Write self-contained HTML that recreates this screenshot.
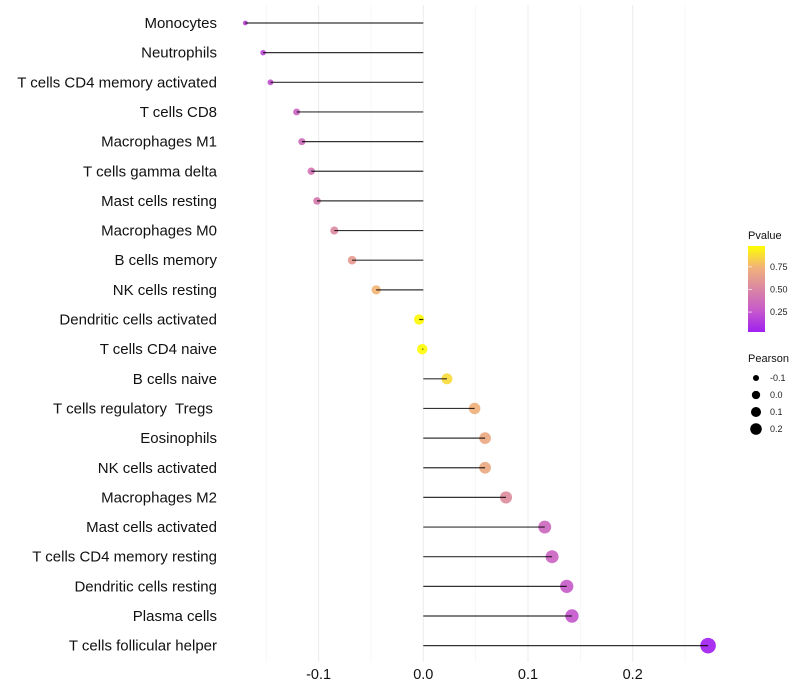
<!DOCTYPE html>
<html><head><meta charset="utf-8"><style>
body{margin:0;background:#fff;}
svg{display:block;font-family:"Liberation Sans",sans-serif;}
text{white-space:pre;}
</style></head><body>
<svg id="chart" width="800" height="700">
<defs><linearGradient id="pgrad" x1="0" y1="1" x2="0" y2="0">
<stop offset="0" stop-color="#A020F0"/><stop offset="0.25" stop-color="#C65ACB"/><stop offset="0.5" stop-color="#DA86A4"/><stop offset="0.75" stop-color="#F1B27A"/><stop offset="1" stop-color="#FFFF00"/>
</linearGradient></defs>
<g id="grid"></g>
<g id="marks"></g>
<g id="ylabels"></g>
<g id="xlabels"></g>
<g>
<text x="748" y="239" font-size="11" fill="#111">Pvalue</text>
<rect x="748" y="246" width="17" height="86" fill="url(#pgrad)"/>
<g id="pticks"></g>
</g>
<g>
<text x="748" y="362" font-size="11" fill="#111">Pearson</text>
<g id="sizeleg"></g>
</g>
</svg>
<script>
const categories=["Monocytes","Neutrophils","T cells CD4 memory activated","T cells CD8","Macrophages M1","T cells gamma delta","Mast cells resting","Macrophages M0","B cells memory","NK cells resting","Dendritic cells activated","T cells CD4 naive","B cells naive","T cells regulatory  Tregs ","Eosinophils","NK cells activated","Macrophages M2","Mast cells activated","T cells CD4 memory resting","Dendritic cells resting","Plasma cells","T cells follicular helper"];
const pearson=[-0.170,-0.153,-0.146,-0.121,-0.116,-0.107,-0.1015,-0.085,-0.068,-0.045,-0.004,-0.001,0.0226,0.049,0.059,0.059,0.079,0.116,0.123,0.137,0.142,0.272];
const pvalues=[0.17,0.20,0.22,0.32,0.35,0.40,0.43,0.52,0.62,0.76,0.98,0.99,0.88,0.74,0.70,0.70,0.54,0.33,0.31,0.26,0.24,0.01];
const xTicks=[-0.1,0.0,0.1,0.2];
const xTickLabels=["-0.1","0.0","0.1","0.2"];
const xMinor=[-0.15,-0.05,0.05,0.15,0.25];
const pTicks=[0.25,0.5,0.75];
const pTickLabels=["0.25","0.50","0.75"];
const sizeLegendVals=[-0.1,0.0,0.1,0.2];
const sizeLegendLabels=["-0.1","0.0","0.1","0.2"];

const NS="http://www.w3.org/2000/svg";
const x=v=>423.3+v*1047;
const y=i=>23+i*29.65;
const r=v=>Math.sqrt(Math.max(2.5,27+125*v));
const stops=[[0,[160,32,240]],[0.25,[198,90,203]],[0.5,[218,134,164]],[0.75,[241,178,122]],[1,[255,255,0]]];
function col(p){for(let k=1;k<stops.length;k++){if(p<=stops[k][0]){const a=stops[k-1],b=stops[k],t=(p-a[0])/(b[0]-a[0]);return 'rgb('+a[1].map((c,j)=>Math.round(c+(b[1][j]-c)*t)).join(',')+')';}}return 'rgb(255,255,0)';}
function mk(tag,attrs,parent){const e=document.createElementNS(NS,tag);for(const k in attrs)e.setAttribute(k,attrs[k]);document.getElementById(parent).appendChild(e);return e;}

xMinor.forEach(v=>{const l=mk('line',{x1:x(v),x2:x(v),y1:5,y2:662,stroke:'#f2f2f2','stroke-width':0.6},'grid');

});
xTicks.forEach((v,i)=>{const l=mk('line',{x1:x(v),x2:x(v),y1:5,y2:662,stroke:'#ebebeb','stroke-width':1},'grid');


const t=mk('text',{x:x(v),y:679,'font-size':14.5,fill:'#111','text-anchor':'middle'},'xlabels');t.textContent=xTickLabels[i];

});
categories.forEach((c,i)=>{
const t=mk('text',{x:217,y:y(i)+5,'font-size':15,fill:'#111','text-anchor':'end'},'ylabels');t.textContent=c;


const d=mk('circle',{cx:x(pearson[i]),cy:y(i),r:r(pearson[i]),fill:col(pvalues[i]),'fill-opacity':0.92},'marks');


const s=mk('line',{x1:x(0),x2:x(pearson[i]),y1:y(i),y2:y(i),stroke:'#000','stroke-width':1.2,'stroke-opacity':0.8},'marks');

});
pTicks.forEach((p,i)=>{const yy=332-(p-0.03)/0.95*86;
const l=mk('line',{x1:748,x2:752,y1:yy,y2:yy,stroke:'#fff','stroke-opacity':0.6},'pticks');


const t=mk('text',{x:770,y:yy+3,'font-size':9,fill:'#222'},'pticks');t.textContent=pTickLabels[i];

});
sizeLegendVals.forEach((v,i)=>{const yy=378+i*17;
const c=mk('circle',{cx:756,cy:yy,r:r(v)*0.8,fill:'#000'},'sizeleg');


const t=mk('text',{x:770,y:yy+3,'font-size':9,fill:'#222'},'sizeleg');t.textContent=sizeLegendLabels[i];

});
</script>
</body></html>
